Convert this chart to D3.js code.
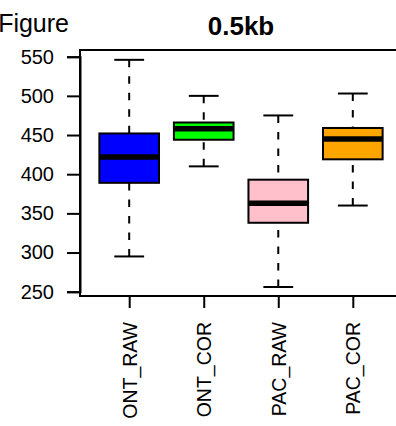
<!DOCTYPE html>
<html>
<head>
<meta charset="utf-8">
<script src="https://cdn.jsdelivr.net/npm/d3@7"></script>
<style>
  body { margin: 0; background: #fff; }
  svg { display: block; font-family: "Liberation Sans", Arial, sans-serif; }
</style>
</head>
<body>
<svg></svg>
<script>
// values
const categories = ["ONT_RAW", "ONT_COR", "PAC_RAW", "PAC_COR"];
const lowerWhisker = [295, 410, 256, 360];
const q1 = [389, 444, 338, 419];
const median = [422, 458, 363, 445];
const q3 = [452, 466, 393, 459];
const upperWhisker = [546, 500, 475, 503];
const yTicks = [250, 300, 350, 400, 450, 500, 550];
const palette = ["#0000ff", "#00ff00", "#ffc0cb", "#ffa500"];

let svg = d3.select("svg").attr("width", 396).attr("height", 426);

let boxes = categories.map((c, i) => ({
    name: c,
    pos: i + 1,
    lo: lowerWhisker[i],
    q1: q1[i],
    med: median[i],
    q3: q3[i],
    hi: upperWhisker[i]
}));

let x = d3.scaleLinear().domain([0.34, 4.66]).range([80, 402]);
let y = d3.scaleLinear().domain([250, 550]).range([291.7, 56.7]);
let fill = d3.scaleOrdinal(categories, palette);

// frame
svg.append("rect")
    .attr("x", 80).attr("y", 50)
    .attr("width", 322).attr("height", 246)
    .style("fill", "none")
    .style("stroke", "black")
    .style("stroke-width", 2);

// y axis
let yAxis = svg.append("g")
    .attr("transform", "translate(80,0)")
    .call(d3.axisLeft(y).tickValues(yTicks).tickSize(13).tickPadding(13).tickFormat(d3.format("d")));
yAxis.selectAll("path, line").style("stroke", "black").style("stroke-width", 2);
yAxis.selectAll("text").style("font-size", "20px").style("fill", "black")
    .style("font-family", "'Liberation Sans', Arial, sans-serif");

// x axis
let xAxis = svg.append("g")
    .attr("transform", "translate(0,296)")
    .call(d3.axisBottom(x).tickValues(boxes.map(d => d.pos)).tickSize(12)
        .tickFormat((d, i) => categories[i]));
xAxis.select(".domain").remove();
xAxis.selectAll("line").style("stroke", "black").style("stroke-width", 2);
xAxis.selectAll("text")
    .style("font-size", "19.5px").style("fill", "black")
    .style("font-family", "'Liberation Sans', Arial, sans-serif")
    .attr("text-anchor", "end")
    .attr("transform", "rotate(-90)")
    .attr("x", -26).attr("y", 0).attr("dy", "0.36em");

let g = svg.append("g");
let boxW = x(1.4) - x(1);
let capW = x(1.2) - x(1);

// whiskers, drawn from the cap toward the box so the dashes start at the cap
g.selectAll(".wlo").data(boxes).join("line")
    .attr("x1", d => x(d.pos)).attr("x2", d => x(d.pos))
    .attr("y1", d => y(d.lo)).attr("y2", d => y(d.q1))
    .style("stroke", "black").style("stroke-width", 2).style("stroke-dasharray", "7.5,9");
g.selectAll(".whi").data(boxes).join("line")
    .attr("x1", d => x(d.pos)).attr("x2", d => x(d.pos))
    .attr("y1", d => y(d.hi)).attr("y2", d => y(d.q3))
    .style("stroke", "black").style("stroke-width", 2).style("stroke-dasharray", "7.5,9");

// caps
["lo", "hi"].forEach(k => {
    g.selectAll(".cap-" + k).data(boxes).join("line")
        .attr("x1", d => x(d.pos) - capW).attr("x2", d => x(d.pos) + capW)
        .attr("y1", d => y(d[k])).attr("y2", d => y(d[k]))
        .style("stroke", "black").style("stroke-width", 2);
});

// boxes
g.selectAll(".box").data(boxes).join("rect")
    .attr("x", d => x(d.pos) - boxW)
    .attr("width", boxW * 2)
    .attr("y", d => y(d.q3))
    .attr("height", d => y(d.q1) - y(d.q3))
    .style("fill", d => fill(d.name))
    .style("stroke", "black").style("stroke-width", 2);

// medians
g.selectAll(".med").data(boxes).join("line")
    .attr("x1", d => x(d.pos) - boxW).attr("x2", d => x(d.pos) + boxW)
    .attr("y1", d => y(d.med)).attr("y2", d => y(d.med))
    .style("stroke", "black").style("stroke-width", 5.5);

// titles
svg.append("text")
    .attr("x", 241).attr("y", 35)
    .attr("text-anchor", "middle")
    .style("font-size", "26px").style("font-weight", "bold")
    .text("0.5kb");
svg.append("text")
    .attr("x", 69).attr("y", 32)
    .attr("text-anchor", "end")
    .style("font-size", "25px")
    .text("Figure");
</script>
</body>
</html>
